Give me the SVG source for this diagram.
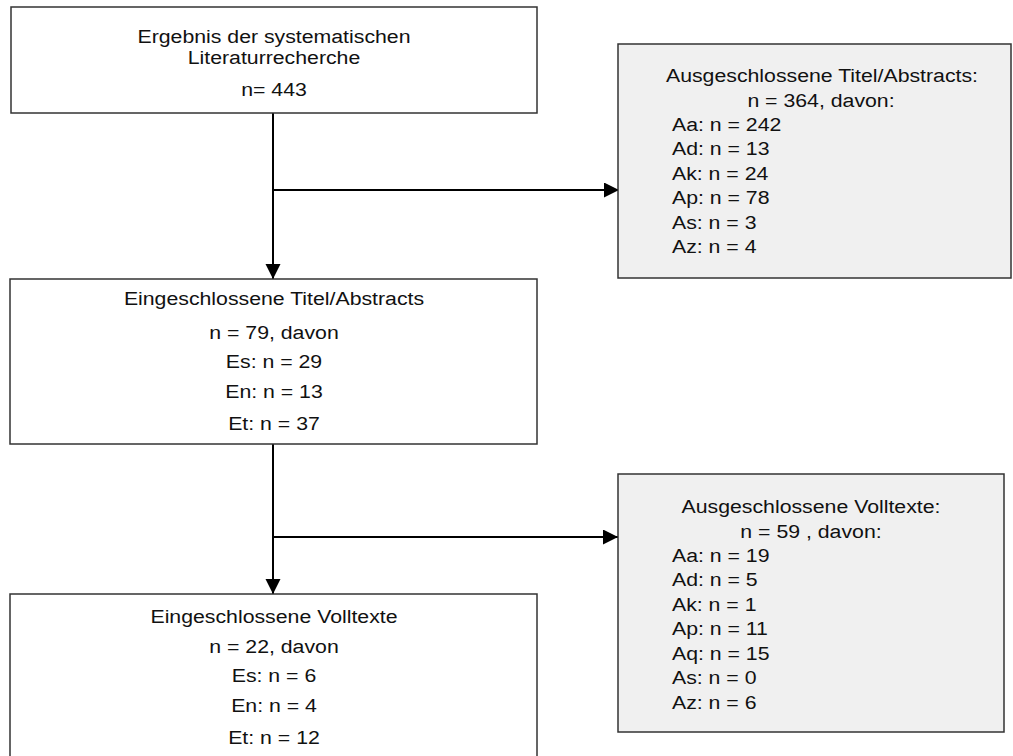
<svg xmlns="http://www.w3.org/2000/svg" width="1013" height="756" viewBox="0 0 1013 756">
  <style>
    .box { fill: #ffffff; stroke: #333333; stroke-width: 1.5; }
    .excl { fill: #f0f0f0; stroke: #333333; stroke-width: 1.5; }
    .conn { stroke: #000000; stroke-width: 2; fill: none; }
    text { font-family: "Liberation Sans", Arial, sans-serif; font-size: 19px; fill: #111111; }
    .c { text-anchor: middle; transform-box: fill-box; transform-origin: center; transform: scaleX(1.12); }
    .l { text-anchor: start; transform-box: fill-box; transform-origin: left; transform: scaleX(1.12); }
  </style>
  <defs>
    <marker id="arrow" markerUnits="userSpaceOnUse" markerWidth="16" markerHeight="16" refX="15" refY="7.5" orient="auto">
      <path d="M0,0 L15,7.5 L0,15 Z" fill="#000000"/>
    </marker>
  </defs>

  <rect width="1013" height="756" fill="#ffffff"/>

  <!-- connectors -->
  <g id="connectors">
    <line class="conn" x1="273" y1="113" x2="273" y2="279" marker-end="url(#arrow)"/>
    <line class="conn" x1="274" y1="190" x2="619" y2="190" marker-end="url(#arrow)"/>
    <line class="conn" x1="273" y1="444" x2="273" y2="594" marker-end="url(#arrow)"/>
    <line class="conn" x1="274" y1="537" x2="618" y2="537" marker-end="url(#arrow)"/>
  </g>

  <!-- search result -->
  <g id="node-search">
    <rect class="box" x="11" y="7" width="526" height="106"/>
    <text class="c" x="274" y="43">Ergebnis der systematischen</text>
    <text class="c" x="274" y="64">Literaturrecherche</text>
    <text class="c" x="274" y="96">n= 443</text>
  </g>

  <!-- excluded titles/abstracts -->
  <g id="node-excluded-abstracts">
    <rect class="excl" x="618" y="44" width="393" height="234"/>
    <text class="c" x="822" y="82">Ausgeschlossene Titel/Abstracts:</text>
    <text class="c" x="821" y="107">n = 364, davon:</text>
    <text class="l" x="672" y="131">Aa: n = 242</text>
    <text class="l" x="672" y="155.5">Ad: n = 13</text>
    <text class="l" x="672" y="180">Ak: n = 24</text>
    <text class="l" x="672" y="204.5">Ap: n = 78</text>
    <text class="l" x="672" y="229">As: n = 3</text>
    <text class="l" x="672" y="253.5">Az: n = 4</text>
  </g>

  <!-- included titles/abstracts -->
  <g id="node-included-abstracts">
    <rect class="box" x="10" y="279" width="527" height="165"/>
    <text class="c" x="274" y="305">Eingeschlossene Titel/Abstracts</text>
    <text class="c" x="274" y="339">n = 79, davon</text>
    <text class="c" x="274" y="368">Es: n = 29</text>
    <text class="c" x="274" y="398">En: n = 13</text>
    <text class="c" x="274" y="430">Et: n = 37</text>
  </g>

  <!-- excluded full texts -->
  <g id="node-excluded-fulltexts">
    <rect class="excl" x="618" y="474" width="386" height="258"/>
    <text class="c" x="811" y="513">Ausgeschlossene Volltexte:</text>
    <text class="c" x="811" y="538">n = 59 , davon:</text>
    <text class="l" x="672" y="562">Aa: n = 19</text>
    <text class="l" x="672" y="586.5">Ad: n = 5</text>
    <text class="l" x="672" y="611">Ak: n = 1</text>
    <text class="l" x="672" y="635.5">Ap: n = 11</text>
    <text class="l" x="672" y="660">Aq: n = 15</text>
    <text class="l" x="672" y="684.5">As: n = 0</text>
    <text class="l" x="672" y="709">Az: n = 6</text>
  </g>

  <!-- included full texts -->
  <g id="node-included-fulltexts">
    <rect class="box" x="10" y="594" width="527" height="165"/>
    <text class="c" x="274" y="623">Eingeschlossene Volltexte</text>
    <text class="c" x="274" y="653">n = 22, davon</text>
    <text class="c" x="274" y="682">Es: n = 6</text>
    <text class="c" x="274" y="712">En: n = 4</text>
    <text class="c" x="274" y="744">Et: n = 12</text>
  </g>
</svg>
